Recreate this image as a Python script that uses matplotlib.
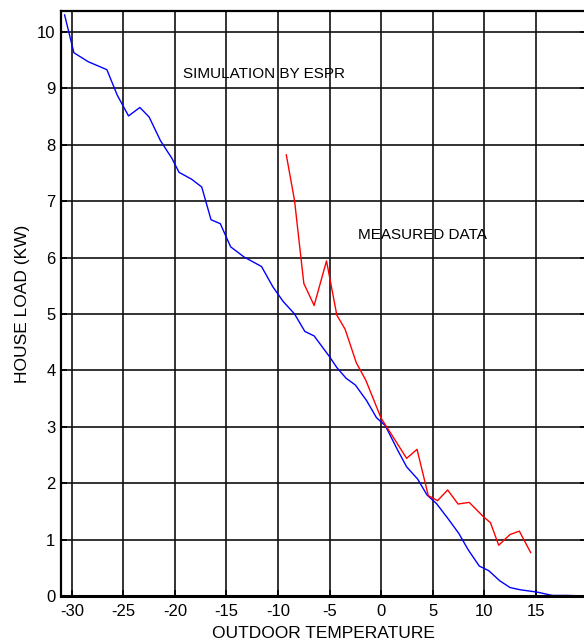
import numpy as np
import matplotlib
matplotlib.use("Agg")
import matplotlib.pyplot as plt

plt.rcParams.update({"font.family": ["Liberation Sans", "DejaVu Sans"], "font.size": 12,
                     "axes.unicode_minus": False})

# simulation by ESPR (blue)
sim_t = [-30.7, -29.8, -28.4, -26.6, -25.6, -24.5, -23.4, -22.5, -21.4, -20.3, -19.6, -18.4,
         -17.4, -16.5, -15.6, -14.6, -13.3, -11.6, -10.5, -9.5, -8.4, -7.4, -6.5, -5.0, -4.3,
         -3.4, -2.5, -1.4, -0.45, 0.4, 1.56, 2.47, 3.55, 4.45, 5.36, 6.45, 7.53, 8.44, 9.52,
         10.43, 11.5, 12.5, 13.5, 15.1, 16.6, 18.0, 19.8]
sim_kw = [10.30, 9.63, 9.47, 9.33, 8.88, 8.51, 8.66, 8.49, 8.07, 7.76, 7.51, 7.39,
          7.25, 6.67, 6.60, 6.19, 6.01, 5.84, 5.48, 5.22, 5.00, 4.69, 4.61, 4.24, 4.05,
          3.86, 3.74, 3.46, 3.16, 3.02, 2.60, 2.29, 2.07, 1.79, 1.64, 1.38, 1.11, 0.82, 0.53,
          0.45, 0.27, 0.15, 0.11, 0.07, 0.01, 0.01, 0.0]

# measured data (red)
meas_t = [-9.2, -8.4, -7.5, -6.5, -5.3, -4.3, -3.5, -2.4, -1.5, 0.0, 0.84, 2.47, 3.48,
          4.57, 5.47, 6.45, 7.46, 8.54, 9.89, 10.6, 11.4, 12.5, 13.4, 14.5]
meas_kw = [7.82, 7.01, 5.54, 5.15, 5.94, 4.98, 4.73, 4.13, 3.83, 3.15, 2.91, 2.44, 2.60,
           1.78, 1.69, 1.88, 1.63, 1.66, 1.41, 1.30, 0.90, 1.09, 1.15, 0.77]

xticks = np.arange(-30, 20, 5)
yticks = np.arange(0, 11, 1)

fig = plt.figure(figsize=(5.84, 6.43), dpi=100)
ax = fig.add_axes([61 / 584, 47 / 643, 1 - 61 / 584 + 0.004, (596 - 11) / 643])
ax.plot(sim_t, sim_kw, color="#0000ff", lw=1.0)
ax.plot(meas_t, meas_kw, color="#ff0000", lw=1.0)
ax.set_xlim(-31.05, 19.9)
ax.set_ylim(0, 10.37)
ax.set_xticks(xticks)
ax.set_yticks(yticks)
ax.grid(True, color="#111111", lw=1.2)
ax.tick_params(direction="in", length=4, width=1.2, right=True, top=False, labelsize=12)
ax.tick_params(axis="x", pad=6)
ax.tick_params(axis="y", pad=4)
for s in ax.spines.values():
    s.set_linewidth(1.6)
ax.spines["bottom"].set_linewidth(2.2)
ax.text(-11.4, 9.26, "SIMULATION BY ESPR", ha="center", va="center", fontsize=11)
ax.text(4.0, 6.40, "MEASURED DATA", ha="center", va="center", fontsize=11)
ax.set_xlabel("OUTDOOR TEMPERATURE", fontsize=12.5, labelpad=5)
ax.set_ylabel("HOUSE LOAD (KW)", fontsize=12.5, labelpad=5)
fig.savefig("out.png", dpi=100)
